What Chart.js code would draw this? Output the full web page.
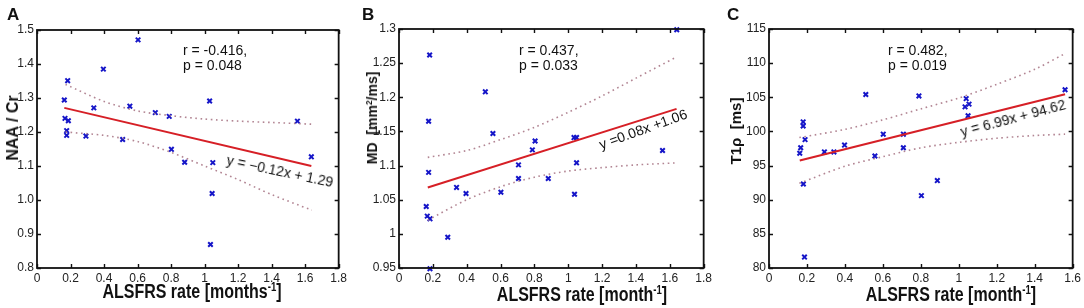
<!DOCTYPE html>
<html>
<head>
<meta charset="utf-8">
<script src="https://cdn.jsdelivr.net/npm/chart.js@4.4.0/dist/chart.umd.min.js"></script>
<style>
  body { margin: 0; width: 1084px; height: 308px; background: #fff; position: relative; overflow: hidden;
         font-family: "Liberation Sans", Arial, sans-serif; color: #111; }
  canvas { position: absolute; top: 0; }
  .t { position: absolute; white-space: nowrap; line-height: 1; }
  .letter { font-weight: bold; font-size: 17px; }
  .stat { font-size: 14px; }
  .eq { font-size: 14px; transform-origin: center; }
  .xt { font-weight: bold; font-size: 20px; transform: translateX(-50%) scaleX(0.8); }
  .yt { font-weight: bold; transform: translate(-50%, -50%) rotate(-90deg); }
  sup { font-size: 60%; vertical-align: 0.55em; line-height: 0; }
</style>
</head>
<body>
<canvas id="chartA" width="350" height="308" style="left:0px"></canvas>
<canvas id="chartB" width="360" height="308" style="left:355px"></canvas>
<canvas id="chartC" width="359" height="308" style="left:725px"></canvas>

<div class="t letter" style="left:7px;top:6px">A</div>
<div class="t letter" style="left:362px;top:6px">B</div>
<div class="t letter" style="left:727px;top:6px">C</div>

<div class="t stat" style="left:183px;top:43px">r = -0.416,</div>
<div class="t stat" style="left:183px;top:58px">p = 0.048</div>
<div class="t stat" style="left:519px;top:43px">r = 0.437,</div>
<div class="t stat" style="left:519px;top:58px">p = 0.033</div>
<div class="t stat" style="left:888px;top:43px">r = 0.482,</div>
<div class="t stat" style="left:888px;top:58px">p = 0.019</div>

<div class="t eq" style="left:280px;top:171px;transform:translate(-50%,-50%) rotate(12deg)">y = −0.12x + 1.29</div>
<div class="t eq" style="left:643px;top:129px;transform:translate(-50%,-50%) rotate(-20deg)">y =0.08x +1.06</div>
<div class="t eq" style="left:1013px;top:118px;transform:translate(-50%,-50%) rotate(-15deg)">y = 6.99x + 94.62</div>

<div class="t xt" style="left:192px;top:281px">ALSFRS rate [months<sup>-1</sup>]</div>
<div class="t xt" style="left:582px;top:284px">ALSFRS rate [month<sup>-1</sup>]</div>
<div class="t xt" style="left:951px;top:284px">ALSFRS rate [month<sup>-1</sup>]</div>

<div class="t yt" style="left:13px;top:128px;font-size:16px">NAA / Cr</div>
<div class="t yt" style="left:372px;top:118px;font-size:14px">MD&nbsp; [mm<sup>2</sup>/ms]</div>
<div class="t yt" style="left:735px;top:131px;font-size:15px">T1ρ&nbsp; [ms]</div>

<script>
// Panel A: NAA/Cr vs ALSFRS rate
const naaX = [0.163, 0.183, 0.396, 0.603, 0.167, 0.187, 0.177, 0.177, 0.292, 0.339, 0.511,
              0.554, 0.706, 0.789, 1.03, 0.802, 1.554, 1.637, 0.881, 1.049, 1.045, 1.035];
const naaY = [1.294, 1.351, 1.385, 1.471, 1.240, 1.233, 1.204, 1.190, 1.188, 1.271, 1.178,
              1.276, 1.257, 1.246, 1.291, 1.149, 1.232, 1.127, 1.111, 1.110, 1.019, 0.869];
const naaFitX = [0.163, 1.637];
const naaFitY = [1.271, 1.100];
const naaBandX = [0.17, 0.4, 0.6, 0.8, 1.0, 1.2, 1.4, 1.64];
const naaUpper = [1.340, 1.290, 1.262, 1.248, 1.238, 1.232, 1.228, 1.223];
const naaLower = [1.200, 1.190, 1.172, 1.140, 1.100, 1.060, 1.016, 0.970];

// Panel B: MD vs ALSFRS rate
const mdX = [0.181, 0.175, 0.510, 0.555, 0.804, 0.788, 1.034, 1.049, 1.641, 1.557, 0.175, 0.161,
             0.167, 0.183, 0.288, 0.340, 0.396, 0.602, 0.706, 0.706, 0.882, 1.049, 1.037, 0.183];
const mdY = [1.262, 1.165, 1.208, 1.147, 1.136, 1.123, 1.141, 1.141, 1.299, 1.122, 1.090, 1.040,
             1.026, 1.022, 0.995, 1.068, 1.059, 1.061, 1.101, 1.081, 1.081, 1.104, 1.058, 0.949];
const mdFitX = [0.17, 1.64];
const mdFitY = [1.068, 1.183];
const mdBandX = [0.17, 0.4, 0.6, 0.8, 1.0, 1.2, 1.4, 1.64];
const mdUpper = [1.112, 1.122, 1.138, 1.156, 1.178, 1.202, 1.228, 1.259];
const mdLower = [1.020, 1.050, 1.069, 1.083, 1.092, 1.097, 1.101, 1.104];

// Panel C: T1rho vs ALSFRS rate
const t1X = [0.180, 0.180, 0.190, 0.167, 0.162, 0.292, 0.342, 0.398, 0.510, 0.602, 0.708, 0.708,
             0.558, 0.790, 1.039, 1.033, 1.054, 1.049, 1.560, 0.181, 0.187, 0.803, 0.887];
const t1Y = [101.4, 100.8, 98.8, 97.6, 96.8, 97.0, 97.0, 98.0, 105.4, 99.6, 99.6, 97.6,
             96.4, 105.2, 104.8, 103.6, 104.0, 102.3, 106.1, 92.3, 81.6, 90.6, 92.8];
const t1FitX = [0.162, 1.56];
const t1FitY = [95.75, 105.45];
const t1BandX = [0.16, 0.4, 0.6, 0.8, 1.0, 1.2, 1.4, 1.56];
const t1Upper = [99.1, 100.3, 101.7, 103.3, 104.9, 106.9, 109.1, 111.4];
const t1Lower = [92.4, 94.9, 96.3, 97.6, 98.4, 99.0, 99.4, 99.6];

// tick values
const ticksX18 = [0, 0.2, 0.4, 0.6, 0.8, 1, 1.2, 1.4, 1.6, 1.8];
const ticksX16 = [0, 0.2, 0.4, 0.6, 0.8, 1, 1.2, 1.4, 1.6];
const ticksNaa = [0.8, 0.9, 1.0, 1.1, 1.2, 1.3, 1.4, 1.5];
const ticksMd = [0.95, 1, 1.05, 1.1, 1.15, 1.2, 1.25, 1.3];
const ticksT1 = [80, 85, 90, 95, 100, 105, 110, 115];

const FONT = '"Liberation Sans", Arial, sans-serif';

function pts(xs, ys) {
    return xs.map((x, i) => ({ x: x, y: ys[i] }));
}

// box around plot area with small inward ticks on all four sides
const frame = {
    id: 'frame',
    afterDatasetsDraw(chart) {
        const { ctx, chartArea: a, scales } = chart;
        ctx.save();
        ctx.strokeStyle = '#111';
        ctx.lineWidth = 1.4;
        ctx.beginPath();
        scales.x.ticks.forEach(t => {
            const px = Math.round(scales.x.getPixelForValue(t.value)) + 0.5;
            ctx.moveTo(px, a.bottom); ctx.lineTo(px, a.bottom - 4);
            ctx.moveTo(px, a.top); ctx.lineTo(px, a.top + 4);
        });
        scales.y.ticks.forEach(t => {
            const py = Math.round(scales.y.getPixelForValue(t.value)) + 0.5;
            ctx.moveTo(a.left, py); ctx.lineTo(a.left + 4, py);
            ctx.moveTo(a.right, py); ctx.lineTo(a.right - 4, py);
        });
        ctx.stroke();
        ctx.lineWidth = 1.8;
        ctx.strokeRect(a.left, a.top, a.right - a.left, a.bottom - a.top);
        ctx.restore();
    }
};

function panel(id, o) {
    const band = {
        showLine: true, pointRadius: 0, borderColor: 'rgba(170,120,135,0.9)',
        borderWidth: 1.6, borderDash: [1.6, 3.6], tension: 0.3
    };
    return new Chart(document.getElementById(id), {
        type: 'scatter',
        data: {
            datasets: [
                { data: pts(o.bandX, o.upper), ...band },
                { data: pts(o.bandX, o.lower), ...band },
                { data: pts(o.fitX, o.fitY), showLine: true, pointRadius: 0, borderColor: '#d61f26', borderWidth: 2 },
                { data: pts(o.x, o.y), pointStyle: 'crossRot', pointRadius: 3.2, borderColor: '#1515c8',
                  borderWidth: 2, clip: false }
            ]
        },
        options: {
            responsive: false,
            animation: false,
            events: [],
            layout: { padding: { top: o.top, right: o.right, left: 0, bottom: 0 } },
            plugins: { legend: { display: false }, tooltip: { enabled: false } },
            scales: {
                x: {
                    type: 'linear', min: 0, max: o.xMax,
                    afterBuildTicks: s => { s.ticks = o.xTicks.map(v => ({ value: v })); },
                    afterFit: s => { s.height = 40; },
                    grid: { display: false, drawTicks: false },
                    border: { display: false },
                    ticks: {
                        autoSkip: false, maxRotation: 0, padding: 3, color: '#222',
                        font: { size: 12, family: FONT },
                        callback: v => String(+v.toFixed(1))
                    }
                },
                y: {
                    type: 'linear', min: o.yMin, max: o.yMax,
                    afterBuildTicks: s => { s.ticks = o.yTicks.map(v => ({ value: v })); },
                    afterFit: s => { s.width = o.left; },
                    grid: { display: false, drawTicks: false },
                    border: { display: false },
                    ticks: {
                        autoSkip: false, padding: 3, color: '#222',
                        font: { size: 12, family: FONT },
                        callback: o.yFmt
                    }
                }
            }
        },
        plugins: [frame]
    });
}

panel('chartA', {
    x: naaX, y: naaY, fitX: naaFitX, fitY: naaFitY, bandX: naaBandX, upper: naaUpper, lower: naaLower,
    xMax: 1.8, xTicks: ticksX18, yMin: 0.8, yMax: 1.5, yTicks: ticksNaa,
    yFmt: v => v.toFixed(1), left: 37, right: 10, top: 30
});

panel('chartB', {
    x: mdX, y: mdY, fitX: mdFitX, fitY: mdFitY, bandX: mdBandX, upper: mdUpper, lower: mdLower,
    xMax: 1.8, xTicks: ticksX18, yMin: 0.95, yMax: 1.3, yTicks: ticksMd,
    yFmt: v => String(+v.toFixed(2)), left: 44, right: 9, top: 29
});

panel('chartC', {
    x: t1X, y: t1Y, fitX: t1FitX, fitY: t1FitY, bandX: t1BandX, upper: t1Upper, lower: t1Lower,
    xMax: 1.6, xTicks: ticksX16, yMin: 80, yMax: 115, yTicks: ticksT1,
    yFmt: v => String(v), left: 44, right: 11, top: 29
});
</script>
</body>
</html>
